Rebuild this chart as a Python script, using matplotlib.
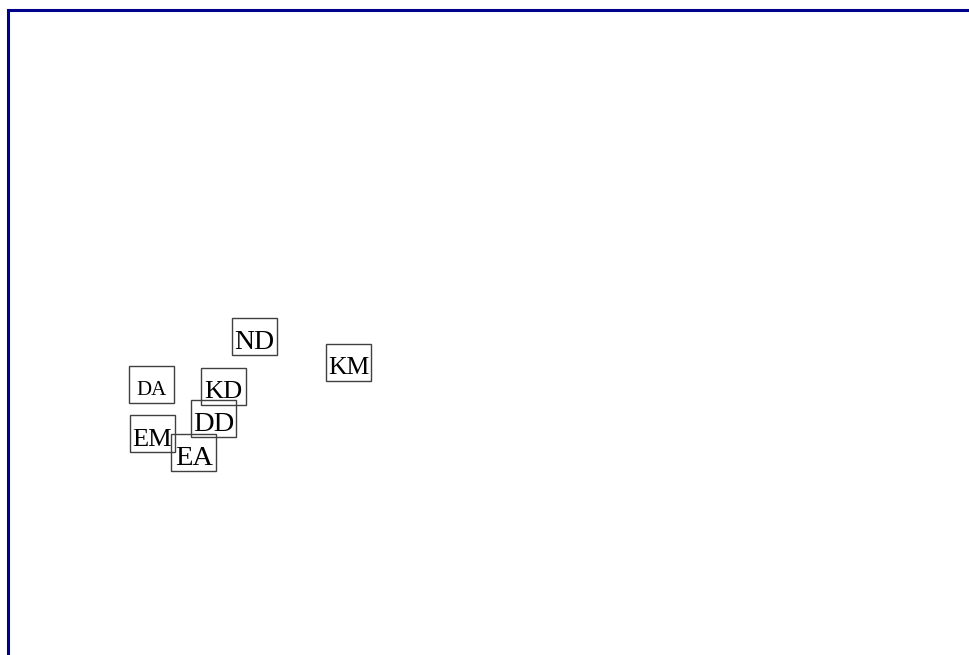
import matplotlib.pyplot as plt
from matplotlib.patches import Rectangle

# labels and their positions on the map (percent of the framed area)
labels = ['ND', 'KM', 'DA', 'KD', 'DD', 'EM', 'EA']
x_vals = [25.6, 35.4, 14.9, 22.4, 21.4, 15.0, 19.3]
y_vals = [49.4, 45.4, 41.9, 41.7, 36.7, 34.3, 31.4]

# text size of each label (pt)
label_sizes = [20, 18.5, 15, 19, 20.5, 19, 20.5]

fig = plt.figure(figsize=(9.7, 6.55), dpi=100)
# frame starts at (8, 10) px and runs off the right / bottom of the image
ax = fig.add_axes([8 / 970, 0, 962 / 970, 645 / 655])
ax.set_xlim(0, 100)
ax.set_ylim(0, 100)
ax.set_xticks([])
ax.set_yticks([])
for side in ['right', 'bottom']:
    ax.spines[side].set_visible(False)
for side in ['left', 'top']:
    ax.spines[side].set_color('#00008B')
    ax.spines[side].set_linewidth(2.2)

# fixed box size in pixels -> data units
box_w = 45 * 100 / 962
box_h = 37 * 100 / 645

for lab, x, y, fs in zip(labels, x_vals, y_vals, label_sizes):
    ax.add_patch(Rectangle((x - box_w / 2, y - box_h / 2), box_w, box_h,
                           fill=False, edgecolor='#404040', linewidth=1.0))
    ax.text(x, y - 0.9, lab, ha='center', va='center', fontsize=fs,
            family='Liberation Serif', color='black')

fig.savefig('out.png', dpi=100)
